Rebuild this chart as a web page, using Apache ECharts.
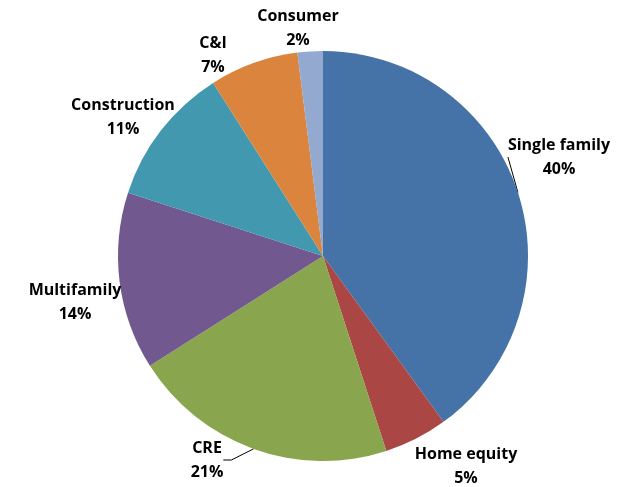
<!DOCTYPE html>
<html>
<head>
<meta charset="utf-8">
<script src="https://cdn.jsdelivr.net/npm/echarts@6/dist/echarts.min.js"></script>
<style>
  html, body { margin: 0; padding: 0; background: #fff; }
  #chart { width: 631px; height: 487px; }
</style>
</head>
<body>
<div id="chart"></div>
<script>
// loan mix, share of portfolio (%)
const categories = ['Single family', 'Home equity', 'CRE', 'Multifamily', 'Construction', 'C&I', 'Consumer'];
const shares = [40, 5, 21, 14, 11, 7, 2];
const colors = ['#4572A7', '#AA4643', '#89A54E', '#71588F', '#4198AF', '#DB843D', '#93A9CF'];
// where each label sits (centre of the two text lines)
const labelPos = [[559, 157], [466, 466], [207, 460], [75, 302], [123, 117], [213, 55], [298, 28]];
const withLine = [true, false, true, false, false, false, false];

const chart = echarts.init(document.getElementById('chart'));
chart.setOption({
  animation: false,
  series: [{
    type: 'pie',
    center: [323, 256],
    radius: 205,
    startAngle: 90,
    clockwise: true,
    data: categories.map(function (c, i) {
      return {
        name: c,
        value: shares[i],
        itemStyle: { color: colors[i] },
        labelLine: { show: withLine[i] }
      };
    }),
    label: {
      position: 'outside',
      formatter: function (p) { return p.name + '\n' + p.value + '%'; },
      fontFamily: 'Open Sans',
      fontWeight: 'bold',
      fontSize: 16,
      lineHeight: 24,
      color: '#000',
      align: 'center',
      overflow: 'none'
    },
    labelLine: { lineStyle: { color: '#000', width: 1 }, length: 8, length2: 8 },
    labelLayout: function (p) {
      const pos = labelPos[p.dataIndex];
      return { x: pos[0], y: pos[1], align: 'center', verticalAlign: 'middle' };
    }
  }]
});
</script>
</body>
</html>
